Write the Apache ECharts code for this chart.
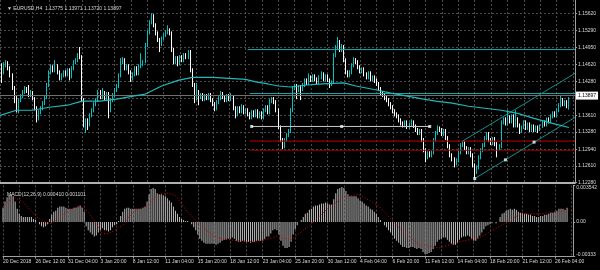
<!DOCTYPE html>
<html><head><meta charset="utf-8">
<script src="https://cdn.jsdelivr.net/npm/echarts@6/dist/echarts.min.js"></script>
<style>html,body{margin:0;padding:0;background:#000}#c{width:600px;height:270px}</style>
</head><body><div id="c"></div><script>
const symbolText = '▼ EURUSD,H4';
const macdLegend = 'MACD(12,26,9) 0.000410 0.001101';
const timeLabels = ['20 Dec 2018','26 Dec 12:00','31 Dec 04:00','3 Jan 20:00','8 Jan 12:00','11 Jan 04:00','15 Jan 20:00','18 Jan 12:00','23 Jan 04:00','25 Jan 20:00','30 Jan 12:00','4 Feb 04:00','6 Feb 20:00','11 Feb 12:00','14 Feb 04:00','18 Feb 20:00','21 Feb 12:00','26 Feb 04:00'];
const priceTickValues = [1.1228,1.1261,1.1294,1.1328,1.1361,1.1395,1.1428,1.1462,1.1495,1.1529,1.1562];
const priceTickLabels = ['1.12280','1.12610','1.12940','1.13280','1.13610','1.13950','1.14280','1.14620','1.14950','1.15290','1.15620'];
const macdTickValues = [-0.00333,0,0.003542];
const macdTickLabels = ['-0.00333','0.00','0.003542'];

const open = [
1.1480,1.1460,1.1446,1.1460,1.1464,1.1454,1.1440,1.1415,1.1395,1.1377,
1.1391,1.1399,1.1407,1.1415,1.1411,1.1401,1.1407,1.1395,1.1375,1.1359,
1.1367,1.1375,1.1385,1.1397,1.1421,1.1446,1.1456,1.1450,1.1458,1.1446,
1.1434,1.1440,1.1446,1.1442,1.1450,1.1438,1.1454,1.1466,1.1470,1.1480,
1.1476,1.1391,1.1341,1.1351,1.1343,1.1361,1.1371,1.1383,1.1391,1.1407,
1.1397,1.1405,1.1395,1.1403,1.1375,1.1391,1.1401,1.1411,1.1419,1.1440,
1.1466,1.1470,1.1454,1.1458,1.1446,1.1434,1.1442,1.1454,1.1444,1.1458,
1.1462,1.1466,1.1500,1.1525,1.1545,1.1553,1.1539,1.1523,1.1510,1.1502,
1.1514,1.1519,1.1525,1.1529,1.1523,1.1490,1.1466,1.1474,1.1464,1.1476,
1.1470,1.1480,1.1476,1.1486,1.1450,1.1421,1.1395,1.1407,1.1397,1.1401,
1.1393,1.1399,1.1395,1.1401,1.1391,1.1383,1.1375,1.1387,1.1395,1.1403,
1.1397,1.1391,1.1399,1.1393,1.1397,1.1375,1.1363,1.1375,1.1369,1.1377,
1.1367,1.1371,1.1363,1.1357,1.1367,1.1361,1.1369,1.1359,1.1365,1.1357,
1.1371,1.1377,1.1367,1.1389,1.1393,1.1387,1.1371,1.1337,1.1312,1.1302,
1.1312,1.1322,1.1330,1.1371,1.1415,1.1419,1.1411,1.1417,1.1413,1.1421,
1.1430,1.1425,1.1436,1.1430,1.1438,1.1432,1.1427,1.1436,1.1442,1.1432,
1.1438,1.1430,1.1423,1.1427,1.1480,1.1496,1.1506,1.1490,1.1496,1.1470,
1.1446,1.1440,1.1446,1.1460,1.1470,1.1466,1.1456,1.1448,1.1452,1.1442,
1.1436,1.1444,1.1432,1.1436,1.1430,1.1423,1.1413,1.1405,1.1401,1.1395,
1.1391,1.1383,1.1377,1.1369,1.1363,1.1359,1.1351,1.1345,1.1341,1.1347,
1.1337,1.1343,1.1347,1.1339,1.1332,1.1326,1.1330,1.1312,1.1292,1.1278,
1.1286,1.1282,1.1288,1.1312,1.1326,1.1336,1.1332,1.1324,1.1330,1.1316,
1.1300,1.1282,1.1274,1.1266,1.1272,1.1288,1.1302,1.1306,1.1296,1.1288,
1.1294,1.1282,1.1262,1.1248,1.1258,1.1278,1.1292,1.1302,1.1316,1.1324,
1.1312,1.1306,1.1314,1.1304,1.1296,1.1300,1.1347,1.1353,1.1345,1.1357,
1.1349,1.1359,1.1341,1.1353,1.1341,1.1330,1.1337,1.1347,1.1336,1.1343,
1.1332,1.1339,1.1332,1.1337,1.1334,1.1339,1.1347,1.1343,1.1353,1.1349,
1.1359,1.1365,1.1361,1.1371,1.1381,1.1391,1.1383,1.1387,1.13775];
const close = [
1.1460,1.1446,1.1460,1.1464,1.1454,1.1440,1.1415,1.1395,1.1377,1.1391,
1.1399,1.1407,1.1415,1.1411,1.1401,1.1407,1.1395,1.1375,1.1359,1.1367,
1.1375,1.1385,1.1397,1.1421,1.1446,1.1456,1.1450,1.1458,1.1446,1.1434,
1.1440,1.1446,1.1442,1.1450,1.1438,1.1454,1.1466,1.1470,1.1480,1.1476,
1.1391,1.1341,1.1351,1.1343,1.1361,1.1371,1.1383,1.1391,1.1407,1.1397,
1.1405,1.1395,1.1403,1.1375,1.1391,1.1401,1.1411,1.1419,1.1440,1.1466,
1.1470,1.1454,1.1458,1.1446,1.1434,1.1442,1.1454,1.1444,1.1458,1.1462,
1.1466,1.1500,1.1525,1.1545,1.1553,1.1539,1.1523,1.1510,1.1502,1.1514,
1.1519,1.1525,1.1529,1.1523,1.1490,1.1466,1.1474,1.1464,1.1476,1.1470,
1.1480,1.1476,1.1486,1.1450,1.1421,1.1395,1.1407,1.1397,1.1401,1.1393,
1.1399,1.1395,1.1401,1.1391,1.1383,1.1375,1.1387,1.1395,1.1403,1.1397,
1.1391,1.1399,1.1393,1.1397,1.1375,1.1363,1.1375,1.1369,1.1377,1.1367,
1.1371,1.1363,1.1357,1.1367,1.1361,1.1369,1.1359,1.1365,1.1357,1.1371,
1.1377,1.1367,1.1389,1.1393,1.1387,1.1371,1.1337,1.1312,1.1302,1.1312,
1.1322,1.1330,1.1371,1.1415,1.1419,1.1411,1.1417,1.1413,1.1421,1.1430,
1.1425,1.1436,1.1430,1.1438,1.1432,1.1427,1.1436,1.1442,1.1432,1.1438,
1.1430,1.1423,1.1427,1.1480,1.1496,1.1506,1.1490,1.1496,1.1470,1.1446,
1.1440,1.1446,1.1460,1.1470,1.1466,1.1456,1.1448,1.1452,1.1442,1.1436,
1.1444,1.1432,1.1436,1.1430,1.1423,1.1413,1.1405,1.1401,1.1395,1.1391,
1.1383,1.1377,1.1369,1.1363,1.1359,1.1351,1.1345,1.1341,1.1347,1.1337,
1.1343,1.1347,1.1339,1.1332,1.1326,1.1330,1.1312,1.1292,1.1278,1.1286,
1.1282,1.1288,1.1312,1.1326,1.1336,1.1332,1.1324,1.1330,1.1316,1.1300,
1.1282,1.1274,1.1266,1.1272,1.1288,1.1302,1.1306,1.1296,1.1288,1.1294,
1.1282,1.1262,1.1248,1.1258,1.1278,1.1292,1.1302,1.1316,1.1324,1.1312,
1.1306,1.1314,1.1304,1.1296,1.1300,1.1347,1.1353,1.1345,1.1357,1.1349,
1.1359,1.1341,1.1353,1.1341,1.1330,1.1337,1.1347,1.1336,1.1343,1.1332,
1.1339,1.1332,1.1337,1.1334,1.1339,1.1347,1.1343,1.1353,1.1349,1.1359,
1.1365,1.1361,1.1371,1.1381,1.1391,1.1383,1.1387,1.1377,1.13897];
const high = [
1.1486,1.1464,1.1466,1.1470,1.1468,1.1458,1.1444,1.1419,1.1399,1.1395,
1.1403,1.1411,1.1419,1.1417,1.1421,1.1411,1.1409,1.1397,1.1379,1.1371,
1.1379,1.1389,1.1401,1.1425,1.1450,1.1462,1.1460,1.1470,1.1462,1.1450,
1.1444,1.1450,1.1450,1.1454,1.1454,1.1458,1.1470,1.1474,1.1484,1.1496,
1.1480,1.1395,1.1355,1.1355,1.1365,1.1375,1.1387,1.1395,1.1411,1.1411,
1.1415,1.1409,1.1407,1.1407,1.1395,1.1405,1.1415,1.1423,1.1444,1.1474,
1.1476,1.1474,1.1462,1.1462,1.1450,1.1446,1.1458,1.1458,1.1462,1.1484,
1.1470,1.1504,1.1529,1.1549,1.1563,1.1561,1.1543,1.1527,1.1514,1.1517,
1.1523,1.1529,1.1539,1.1533,1.1527,1.1494,1.1478,1.1478,1.1480,1.1480,
1.1484,1.1484,1.1490,1.1490,1.1454,1.1425,1.1425,1.1411,1.1405,1.1405,
1.1403,1.1403,1.1405,1.1405,1.1395,1.1387,1.1391,1.1399,1.1409,1.1407,
1.1401,1.1403,1.1403,1.1405,1.1401,1.1379,1.1379,1.1379,1.1383,1.1381,
1.1375,1.1375,1.1367,1.1371,1.1371,1.1373,1.1373,1.1369,1.1369,1.1375,
1.1381,1.1381,1.1393,1.1397,1.1397,1.1391,1.1375,1.1341,1.1316,1.1316,
1.1326,1.1334,1.1375,1.1419,1.1423,1.1423,1.1421,1.1421,1.1425,1.1434,
1.1434,1.1444,1.1440,1.1442,1.1442,1.1436,1.1440,1.1448,1.1446,1.1442,
1.1442,1.1434,1.1430,1.1484,1.1500,1.1516,1.1510,1.1502,1.1500,1.1474,
1.1450,1.1450,1.1464,1.1476,1.1474,1.1470,1.1460,1.1456,1.1456,1.1446,
1.1448,1.1448,1.1440,1.1440,1.1434,1.1427,1.1417,1.1409,1.1405,1.1399,
1.1395,1.1387,1.1381,1.1373,1.1367,1.1363,1.1355,1.1349,1.1351,1.1351,
1.1347,1.1353,1.1351,1.1343,1.1336,1.1334,1.1334,1.1316,1.1296,1.1290,
1.1290,1.1292,1.1316,1.1330,1.1341,1.1339,1.1336,1.1334,1.1334,1.1320,
1.1304,1.1286,1.1278,1.1276,1.1292,1.1306,1.1310,1.1310,1.1300,1.1298,
1.1298,1.1286,1.1266,1.1262,1.1282,1.1296,1.1306,1.1320,1.1328,1.1328,
1.1316,1.1318,1.1318,1.1308,1.1304,1.1351,1.1357,1.1357,1.1371,1.1361,
1.1363,1.1363,1.1371,1.1357,1.1345,1.1341,1.1351,1.1351,1.1347,1.1347,
1.1343,1.1343,1.1341,1.1341,1.1343,1.1351,1.1351,1.1357,1.1357,1.1363,
1.1369,1.1369,1.1375,1.1385,1.1401,1.1395,1.1391,1.1391,1.13971];
const low = [
1.1454,1.1425,1.1442,1.1456,1.1450,1.1436,1.1411,1.1385,1.1367,1.1365,
1.1387,1.1395,1.1403,1.1405,1.1397,1.1397,1.1391,1.1371,1.1347,1.1351,
1.1363,1.1371,1.1381,1.1393,1.1417,1.1442,1.1446,1.1446,1.1442,1.1430,
1.1430,1.1436,1.1438,1.1438,1.1430,1.1434,1.1450,1.1462,1.1466,1.1472,
1.1387,1.1337,1.1326,1.1332,1.1339,1.1357,1.1367,1.1379,1.1387,1.1393,
1.1393,1.1391,1.1391,1.1355,1.1367,1.1387,1.1397,1.1407,1.1415,1.1436,
1.1462,1.1450,1.1450,1.1442,1.1427,1.1430,1.1438,1.1440,1.1440,1.1454,
1.1458,1.1464,1.1496,1.1521,1.1541,1.1535,1.1519,1.1506,1.1486,1.1498,
1.1510,1.1516,1.1521,1.1519,1.1486,1.1462,1.1462,1.1458,1.1460,1.1466,
1.1466,1.1472,1.1472,1.1446,1.1417,1.1385,1.1391,1.1381,1.1393,1.1389,
1.1389,1.1391,1.1391,1.1387,1.1379,1.1369,1.1371,1.1383,1.1391,1.1393,
1.1387,1.1387,1.1389,1.1389,1.1371,1.1355,1.1359,1.1365,1.1365,1.1363,
1.1363,1.1359,1.1353,1.1353,1.1357,1.1357,1.1355,1.1355,1.1353,1.1353,
1.1367,1.1363,1.1363,1.1385,1.1383,1.1367,1.1334,1.1308,1.1294,1.1296,
1.1308,1.1318,1.1326,1.1367,1.1411,1.1393,1.1407,1.1391,1.1409,1.1417,
1.1421,1.1421,1.1427,1.1427,1.1428,1.1423,1.1423,1.1432,1.1428,1.1428,
1.1427,1.1415,1.1419,1.1423,1.1476,1.1492,1.1486,1.1486,1.1466,1.1442,
1.1436,1.1436,1.1442,1.1456,1.1462,1.1452,1.1444,1.1444,1.1438,1.1432,
1.1432,1.1428,1.1428,1.1425,1.1419,1.1409,1.1401,1.1397,1.1391,1.1387,
1.1379,1.1373,1.1365,1.1359,1.1355,1.1347,1.1341,1.1337,1.1337,1.1334,
1.1334,1.1339,1.1336,1.1328,1.1322,1.1322,1.1308,1.1288,1.1268,1.1274,
1.1278,1.1278,1.1284,1.1308,1.1322,1.1328,1.1320,1.1320,1.1312,1.1296,
1.1278,1.1270,1.1258,1.1262,1.1268,1.1284,1.1298,1.1292,1.1284,1.1284,
1.1278,1.1258,1.1237,1.1245,1.1254,1.1274,1.1288,1.1298,1.1312,1.1308,
1.1302,1.1302,1.1300,1.1278,1.1292,1.1296,1.1343,1.1341,1.1341,1.1345,
1.1345,1.1337,1.1337,1.1337,1.1324,1.1326,1.1334,1.1332,1.1332,1.1328,
1.1328,1.1328,1.1328,1.1326,1.1330,1.1336,1.1339,1.1339,1.1345,1.1345,
1.1355,1.1357,1.1357,1.1367,1.1377,1.1379,1.1379,1.1375,1.13720];

// moving average: [bar index, value] read at points along the line
const maPoints = [[0,1.1361],[8,1.1371],[16,1.1371],[24,1.1377],[33,1.1381],[40,1.1389],[49,1.1389],[57,1.1393],[65,1.1399],[71,1.1403],[79,1.1419],[87,1.1430],[94,1.1436],[104,1.1436],[120,1.1432],[125,1.1427],[131,1.1423],[136,1.1419],[142,1.1417],[150,1.1421],[158,1.1423],[168,1.1425],[174,1.1419],[184,1.1411],[191,1.1405],[199,1.1399],[207,1.1393],[213,1.1389],[221,1.1385],[229,1.1379],[237,1.1375],[245,1.1371],[253,1.1365],[261,1.1355],[270,1.1345],[278,1.1337]];

// drawn objects
const cyanLevels = [[121,1.1491],[122,1.1404]];
const redLevels = [[122,1.1310],[122,1.1292]];
const grayTrend = [[123,1.1339],[210,1.1339]];
const grayTrendMarks = [[123,1.1339],[167,1.1339],[210,1.1339]];
const channelUpper = [[226,1.1310],[281,1.1444]];
const channelLower = [[232,1.1236],[281,1.1357]];
const channelMarks = [[232,1.1236],[247,1.1273],[261,1.1308]];

const macdHist = [
0.0014,0.0020,0.0024,0.0026,0.0027,0.0025,0.0020,0.0013,0.0008,0.0006,
0.0005,0.0005,0.0005,0.0005,0.0005,0.0003,0.0002,0.0000,-0.0002,-0.0004,
-0.0005,-0.0004,-0.0002,0.0003,0.0007,0.0010,0.0011,0.0014,0.0015,0.0015,
0.0015,0.0014,0.0013,0.0013,0.0013,0.0014,0.0014,0.0015,0.0016,0.0014,
0.0010,-0.0004,-0.0008,-0.0010,-0.0012,-0.0014,-0.0013,-0.0010,-0.0008,-0.0006,
-0.0008,-0.0008,-0.0009,-0.0008,-0.0005,-0.0003,-0.0002,0.0001,0.0006,0.0010,
0.0013,0.0014,0.0014,0.0013,0.0013,0.0013,0.0013,0.0013,0.0013,0.0014,
0.0015,0.0020,0.0027,0.0032,0.0033,0.0032,0.0028,0.0027,0.0027,0.0026,
0.0025,0.0023,0.0021,0.0019,0.0015,0.0011,0.0008,0.0005,0.0003,0.0002,
0.0001,0.0001,0.0000,-0.0002,-0.0005,-0.0008,-0.0012,-0.0016,-0.0018,-0.0020,
-0.0021,-0.0021,-0.0021,-0.0021,-0.0021,-0.0022,-0.0021,-0.0020,-0.0018,-0.0017,
-0.0017,-0.0016,-0.0016,-0.0015,-0.0016,-0.0018,-0.0019,-0.0019,-0.0018,-0.0019,
-0.0019,-0.0019,-0.0020,-0.0019,-0.0019,-0.0018,-0.0018,-0.0018,-0.0018,-0.0016,
-0.0014,-0.0014,-0.0011,-0.0008,-0.0007,-0.0008,-0.0012,-0.0018,-0.0023,-0.0025,
-0.0025,-0.0024,-0.0019,-0.0012,-0.0007,-0.0003,0.0000,0.0002,0.0005,0.0008,
0.0009,0.0012,0.0013,0.0015,0.0016,0.0016,0.0017,0.0018,0.0018,0.0019,
0.0018,0.0017,0.0017,0.0022,0.0028,0.0032,0.0033,0.0034,0.0033,0.0030,
0.0027,0.0025,0.0025,0.0025,0.0025,0.0023,0.0021,0.0020,0.0018,0.0016,
0.0015,0.0013,0.0012,0.0010,0.0008,0.0005,0.0002,0.0000,-0.0003,-0.0005,
-0.0008,-0.0010,-0.0013,-0.0016,-0.0018,-0.0020,-0.0022,-0.0024,-0.0024,-0.0025,
-0.0025,-0.0024,-0.0024,-0.0025,-0.0026,-0.0025,-0.0026,-0.0029,-0.0031,-0.0031,
-0.0030,-0.0029,-0.0026,-0.0023,-0.0019,-0.0017,-0.0016,-0.0015,-0.0015,-0.0017,
-0.0019,-0.0021,-0.0022,-0.0022,-0.0020,-0.0017,-0.0015,-0.0014,-0.0014,-0.0013,
-0.0014,-0.0016,-0.0018,-0.0018,-0.0016,-0.0013,-0.0010,-0.0007,-0.0004,-0.0003,
-0.0002,-0.0001,0.0000,-0.0001,0.0000,0.0005,0.0008,0.0009,0.0011,0.0012,
0.0013,0.0012,0.0013,0.0012,0.0010,0.0009,0.0009,0.0008,0.0008,0.0007,
0.0007,0.0006,0.0006,0.0005,0.0005,0.0006,0.0006,0.0007,0.0007,0.0008,
0.0009,0.0009,0.0010,0.0011,0.0013,0.0013,0.0013,0.0012,0.0014];
const signalPoints = [[0,0.00144],[3,0.00208],[6,0.00234],[10,0.00192],[13,0.00128],[16,0.00064],[19,0.00016],[23,-0.00016],[26,0.00016],[29,0.00064],[33,0.00118],[36,0.00144],[39,0.00144],[42,0.00096],[46,-0.00016],[49,-0.00112],[52,-0.00112],[55,-0.0008],[59,-0.00032],[62,0.00048],[65,0.00112],[68,0.00134],[72,0.0016],[75,0.0024],[78,0.00272],[81,0.00282],[85,0.00256],[88,0.00176],[91,0.00096],[95,0.00016],[98,-0.00048],[105,-0.0015],[115,-0.0018],[125,-0.0019],[135,-0.0014],[142,-0.0017],[150,-0.0005],[160,0.0013],[168,0.0024],[175,0.0027],[185,0.0016],[195,-0.0005],[205,-0.0022],[215,-0.0025],[225,-0.0019],[235,-0.0015],[245,-0.0004],[255,0.0008],[265,0.0008],[278,0.0011]];

const NCAT = 282;
const FONT = 'Liberation Sans';
const FS = 5;
const TXT = '#d8d8d8';
const last = close.length - 1;
const headerText = symbolText + '  ' + [open[last], high[last], low[last], close[last]].map(v => v.toFixed(5)).join(' ');
const cats = Array.from({length: NCAT}, (_, i) => String(i));
const candles = open.map((o, i) => [o, close[i], low[i], high[i]]);
const dash = {show: true, lineStyle: {color: '#4a4a4a', type: [2, 2], width: 1}};
const txt = {fontSize: FS, fontFamily: FONT, color: TXT};

function hline(startIdx, v) { return [[startIdx, v], [NCAT - 1, v]]; }
function lineSeries(data, color, width, z) {
  return {type: 'line', xAxisIndex: 0, yAxisIndex: 0, data, symbol: 'none', silent: true, z: z || 4,
    lineStyle: {color, width: width || 1}};
}

const series = [
  {type: 'candlestick', xAxisIndex: 0, yAxisIndex: 0, data: candles, barWidth: 1, z: 3,
   itemStyle: {color: '#00c4c4', color0: '#ffffff', borderColor: '#00c4c4', borderColor0: '#ffffff', borderWidth: 1},
   markLine: {symbol: ['none', 'none'], silent: true, animation: false,
     data: [{yAxis: close[last]}],
     lineStyle: {color: '#6e6e6e', type: 'solid', width: 1},
     label: {show: true, position: 'end', distance: 1, formatter: close[last].toFixed(5),
       backgroundColor: '#ffffff', color: '#000', fontSize: FS, fontFamily: FONT, padding: [2, 2, 1, 2]}}},
  lineSeries(maPoints, '#22b8b8', 1.2, 5),
  ...cyanLevels.map(l => lineSeries(hline(l[0], l[1]), '#13b0b0', 1)),
  ...redLevels.map(l => lineSeries(hline(l[0], l[1]), '#9a0000', 1.2)),
  lineSeries(grayTrend, '#c8c8c8', 1),
  lineSeries(channelUpper, '#0f9090', 1),
  lineSeries(channelLower, '#0f9090', 1),
  {type: 'scatter', xAxisIndex: 0, yAxisIndex: 0, data: grayTrendMarks.concat(channelMarks), symbol: 'rect', symbolSize: 3,
   itemStyle: {color: '#eaffff'}, silent: true, z: 6},
  {type: 'bar', xAxisIndex: 1, yAxisIndex: 1, data: macdHist, barWidth: 1, itemStyle: {color: '#bcbcbc'}, silent: true},
  {type: 'line', xAxisIndex: 1, yAxisIndex: 1, data: signalPoints, symbol: 'none', silent: true,
   lineStyle: {color: '#e00000', width: 1, type: [1, 2]}}
];

function labelFor(values, labels, v) {
  for (let i = 0; i < values.length; i++) if (Math.abs(values[i] - v) < 1e-7) return labels[i];
  return '';
}

const option = {
  backgroundColor: '#000',
  animation: false,
  title: [
    {text: headerText, left: 2, top: 1.5, textStyle: Object.assign({fontWeight: 'normal'}, txt)},
    {text: macdLegend, left: 2, top: 187, textStyle: Object.assign({fontWeight: 'normal'}, txt)}
  ],
  grid: [
    {left: 0, right: 25, top: 0, height: 182.6},
    {left: 0, right: 25, top: 185.5, height: 71}
  ],
  xAxis: [
    {type: 'category', gridIndex: 0, data: cats, boundaryGap: false,
     axisLine: {show: true, onZero: false, lineStyle: {color: '#b0b0b0', width: 2}},
     axisTick: {show: false}, axisLabel: {show: false},
     splitLine: Object.assign({interval: 7}, dash)},
    {type: 'category', gridIndex: 1, data: cats, boundaryGap: false,
     axisLine: {show: true, onZero: false, lineStyle: {color: '#a0a0a0'}},
     axisTick: {show: true, interval: 15, length: 2, lineStyle: {color: '#a0a0a0'}},
     axisLabel: Object.assign({show: true, interval: 15, align: 'left', margin: 3,
       formatter: (v) => timeLabels[Math.round(Number(v) / 16)] || ''}, txt),
     splitLine: Object.assign({interval: 7}, dash)}
  ],
  yAxis: [
    {type: 'value', gridIndex: 0, position: 'right', min: 1.1228, max: 1.1589,
     axisLine: {show: true, lineStyle: {color: '#a0a0a0'}},
     axisTick: {show: true, length: 2, customValues: priceTickValues, lineStyle: {color: '#a0a0a0'}},
     axisLabel: Object.assign({customValues: priceTickValues, margin: 3,
       formatter: (v) => Math.abs(v - close[last]) < 0.0008 ? '' : labelFor(priceTickValues, priceTickLabels, v)}, txt),
     splitLine: dash},
    {type: 'value', gridIndex: 1, position: 'right', min: -0.00333, max: 0.003542,
     axisLine: {show: true, lineStyle: {color: '#a0a0a0'}},
     axisTick: {show: true, length: 2, customValues: macdTickValues, lineStyle: {color: '#a0a0a0'}},
     axisLabel: Object.assign({customValues: macdTickValues, margin: 3,
       formatter: (v) => {
         const s = labelFor(macdTickValues, macdTickLabels, v);
         if (v > 0) return '{t|' + s + '}';
         if (v < 0) return '{b|' + s + '}';
         return s;
       },
       rich: {t: {fontSize: FS, fontFamily: FONT, color: TXT, padding: [5, 0, 0, 0]},
              b: {fontSize: FS, fontFamily: FONT, color: TXT, padding: [0, 0, 3, 0]}}}, txt),
     splitLine: {show: false}}
  ],
  series
};
const chart = echarts.init(document.getElementById('c'), null, {renderer: 'canvas'});
chart.setOption(option);
</script></body></html>
